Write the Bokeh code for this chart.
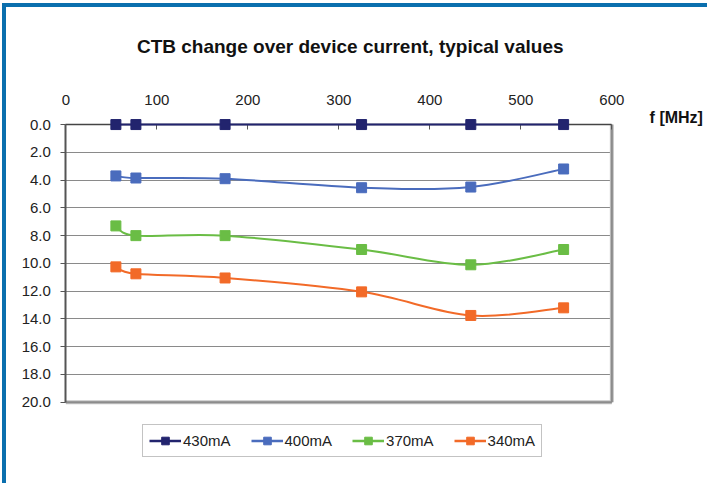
from bokeh.plotting import figure
from bokeh.models import Range1d, Legend, LegendItem, Label, FixedTicker, NumeralTickFormatter, ColumnDataSource
from bokeh.embed import file_html
from bokeh.resources import INLINE

# ---- data ----
freq_mhz = [55, 77, 175, 325, 445, 547]
series_names = ["430mA", "400mA", "370mA", "340mA"]
ctb_430 = [0.0, 0.0, 0.0, 0.0, 0.0, 0.0]
ctb_400 = [3.7, 3.85, 3.9, 4.55, 4.5, 3.2]
ctb_370 = [7.3, 8.0, 8.0, 9.0, 10.1, 9.0]
ctb_340 = [10.25, 10.75, 11.05, 12.05, 13.75, 13.2]
series_values = [ctb_430, ctb_400, ctb_370, ctb_340]
colors = ["#22246e", "#4a6cbd", "#6abd45", "#f26a28"]
x_ticks = [0, 100, 200, 300, 400, 500, 600]
y_ticks = [0, 2, 4, 6, 8, 10, 12, 14, 16, 18, 20]
title_text = "CTB change over device current, typical values"
x_unit_text = "f [MHz]"

FONT = "Liberation Sans"
BLUE = "#0a6fae"

p = figure(width=705, height=480, output_backend="svg", toolbar_location=None,
           x_range=Range1d(-65.2, 709.5), y_range=Range1d(26.14, -8.43),
           x_axis_location="above",
           min_border_left=0, min_border_right=0, min_border_top=0, min_border_bottom=0,
           styles={"margin-left": "2px", "margin-top": "3px",
                   "border-left": "4px solid " + BLUE, "border-top": "4px solid " + BLUE})

p.outline_line_color = None
p.background_fill_color = "white"
p.border_fill_color = "white"

# x axis (top), drawn at the 0.0 line
xa = p.xaxis[0]
xa.ticker = FixedTicker(ticks=x_ticks)
xa.bounds = (x_ticks[0], x_ticks[-1])
xa.fixed_location = y_ticks[0]
xa.major_tick_in = 5
xa.major_tick_out = 0
xa.minor_tick_in = 0
xa.minor_tick_out = 0
xa.major_label_standoff = 20
xa.axis_line_color = "#444444"
xa.axis_line_width = 1.5
xa.major_tick_line_color = "#555555"
xa.major_label_text_font = FONT
xa.major_label_text_font_size = "15px"
xa.major_label_text_color = "#222222"

# y axis, drawn at f = 0
ya = p.yaxis[0]
ya.ticker = FixedTicker(ticks=y_ticks)
ya.bounds = (y_ticks[0], y_ticks[-1])
ya.fixed_location = x_ticks[0]
ya.formatter = NumeralTickFormatter(format="0.0")
ya.major_tick_in = 0
ya.major_tick_out = 5
ya.minor_tick_in = 0
ya.minor_tick_out = 0
ya.major_label_standoff = 10
ya.axis_line_color = "#555555"
ya.axis_line_width = 2
ya.major_tick_line_color = "#555555"
ya.major_label_text_font = FONT
ya.major_label_text_font_size = "15px"
ya.major_label_text_color = "#222222"

p.xgrid.grid_line_color = None
yg = p.ygrid[0]
yg.ticker = FixedTicker(ticks=y_ticks)
yg.bounds = (y_ticks[0], y_ticks[-1])
yg.grid_line_color = "#8a8a8a"
yg.grid_line_width = 1.2
if "cross_bounds" in yg.properties():
    yg.cross_bounds = (x_ticks[0], x_ticks[-1])
else:
    yg.grid_line_color = None
    gsrc = ColumnDataSource(dict(y=y_ticks, x0=[x_ticks[0]] * len(y_ticks), x1=[x_ticks[-1]] * len(y_ticks)))
    p.segment(x0="x0", y0="y", x1="x1", y1="y", source=gsrc, line_color="#8a8a8a", line_width=1.2)

# right and bottom edges of the plot area
edge_src = ColumnDataSource(dict(x0=[x_ticks[-1], x_ticks[0]], y0=[y_ticks[0], y_ticks[-1]],
                                 x1=[x_ticks[-1], x_ticks[-1]], y1=[y_ticks[-1], y_ticks[-1]]))
p.segment(x0="x0", y0="y0", x1="x1", y1="y1", source=edge_src, line_color="#c4c4c4", line_width=4)
p.segment(x0="x0", y0="y0", x1="x1", y1="y1", source=edge_src, line_color="#8c8c8c", line_width=2)


def smooth_controls(xs, ys):
    n = len(xs)
    x0, y0, x1, y1, cx0, cy0, cx1, cy1 = [], [], [], [], [], [], [], []
    for i in range(n - 1):
        pm = i - 1 if i > 0 else i
        pp = i + 2 if i + 2 < n else i + 1
        x0.append(xs[i]); y0.append(ys[i])
        x1.append(xs[i + 1]); y1.append(ys[i + 1])
        cx0.append(xs[i] + (xs[i + 1] - xs[pm]) / 6.0)
        cy0.append(ys[i] + (ys[i + 1] - ys[pm]) / 6.0)
        cx1.append(xs[i + 1] - (xs[pp] - xs[i]) / 6.0)
        cy1.append(ys[i + 1] - (ys[pp] - ys[i]) / 6.0)
    return dict(x0=x0, y0=y0, x1=x1, y1=y1, cx0=cx0, cy0=cy0, cx1=cx1, cy1=cy1)


items = []
for name, vals, col in zip(series_names, series_values, colors):
    src = ColumnDataSource(dict(x=freq_mhz, y=vals))
    bz = ColumnDataSource(smooth_controls(freq_mhz, vals))
    p.bezier(x0="x0", y0="y0", x1="x1", y1="y1", cx0="cx0", cy0="cy0", cx1="cx1", cy1="cy1",
             source=bz, line_color=col, line_width=2, level="overlay")
    leg_line = p.line(x="x", y="y", source=src, line_color=col, line_width=2.5, visible=False)
    sc = p.scatter(x="x", y="y", source=src, marker="square", size=10,
                   fill_color=col, line_color=col, line_width=1, level="overlay")
    items.append(LegendItem(label=name, renderers=[leg_line, sc]))

legend = Legend(items=items, orientation="horizontal", location=(136, 30),
                padding=6, margin=0, spacing=20, label_standoff=2,
                glyph_width=32, glyph_height=19,
                label_text_font=FONT, label_text_font_size="15px", label_text_color="#222222",
                border_line_color="#888888", border_line_width=1.5,
                background_fill_color="white", background_fill_alpha=1)
p.add_layout(legend, "center")

p.add_layout(Label(x=312.5, y=-5.62, text=title_text, text_font=FONT, text_font_size="19px",
                   text_font_style="bold", text_color="#111111", text_baseline="middle",
                   text_align="center"))
p.add_layout(Label(x=641.5, y=-0.5, text=x_unit_text, text_font=FONT, text_font_size="16px",
                   text_font_style="bold", text_color="#111111", text_baseline="middle",
                   text_align="left"))

open("out.html", "w").write(file_html(p, INLINE))
